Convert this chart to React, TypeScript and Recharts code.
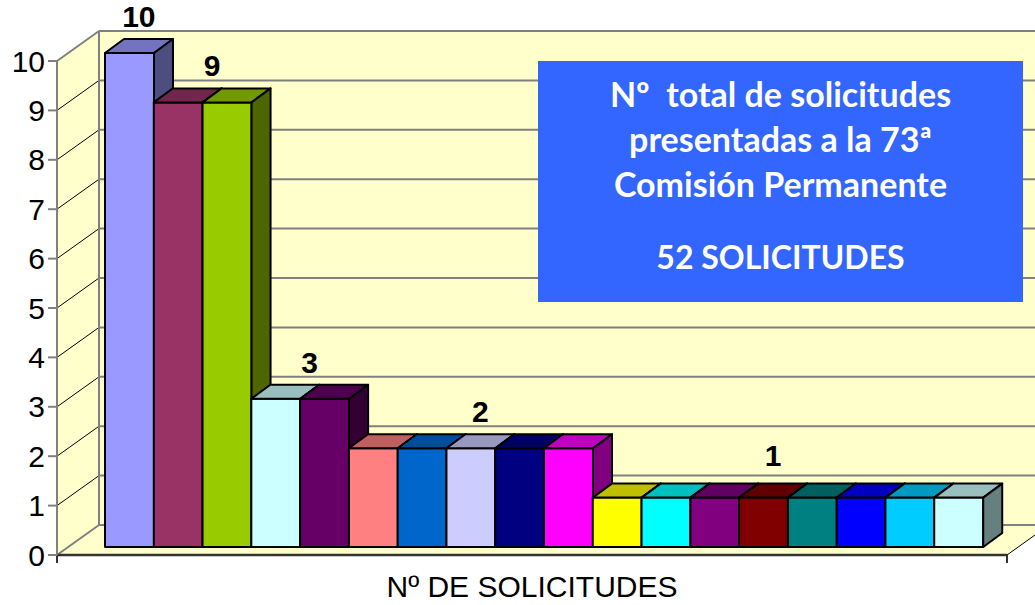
import React from 'react';
import * as R from 'recharts';

const { BarChart, Bar, XAxis, YAxis, Cell, Label } = R as any;

// ---------- data ----------
const categories = ['1', '2', '3', '4', '5', '6', '7', '8', '9', '10', '11', '12', '13', '14', '15', '16', '17', '18'];
const values = [10, 9, 9, 3, 3, 2, 2, 2, 2, 2, 1, 1, 1, 1, 1, 1, 1, 1];
const barColors = [
  '#9999FF', '#993366', '#99CC00', '#CCFFFF', '#660066', '#FF8080', '#0066CC', '#CCCCFF', '#000080',
  '#FF00FF', '#FFFF00', '#00FFFF', '#800080', '#800000', '#008080', '#0000FF', '#00CCFF', '#CCFFFF',
];
const yTicks = [0, 1, 2, 3, 4, 5, 6, 7, 8, 9, 10];
const groupLabels = [10, 9, 3, 2, 1];
const groupLabelAt = [0, 1.5, 3.5, 7, 13]; // category position each group label sits over
const axisTitle = 'Nº DE SOLICITUDES';
const boxLines = ['Nº  total de solicitudes', 'presentadas a la 73ª', 'Comisión Permanente', '52 SOLICITUDES'];

const data = categories.map((c, i) => ({ name: c, value: values[i] }));

// ---------- geometry / style ----------
const Y_MAX = 10;
const BOX_DX = 42, BOX_DY = -30; // depth of the 3D box
const FRONT_DX = 11, FRONT_DY = -8; // bar front plane offset
const BAR_DX = 19, BAR_DY = -14; // bar depth
const PAD_L = 37, PAD_R = 35;
const WALL = '#FFFFCC';
const GRID = '#808080';
const FONT = '"Liberation Sans", Arial, sans-serif';

function shade(hex: string, f: number) {
  const n = parseInt(hex.slice(1), 16);
  const r = Math.round(((n >> 16) & 255) * f);
  const g = Math.round(((n >> 8) & 255) * f);
  const b = Math.round((n & 255) * f);
  return `rgb(${r},${g},${b})`;
}

const usePlot: () => any = (R as any).usePlotArea
  ? () => (R as any).usePlotArea()
  : (R as any).useOffset
  ? () => {
      const o = (R as any).useOffset();
      const w = (R as any).useChartWidth();
      const h = (R as any).useChartHeight();
      return o && w && h ? { x: o.left, y: o.top, width: w - o.left - o.right, height: h - o.top - o.bottom } : null;
    }
  : () => null;

function Walls() {
  const pa = usePlot();
  if (!pa) return null;
  const { x, y, width: w, height: h } = pa;
  const yOf = (v: number) => y + h - (v / Y_MAX) * h;
  const x0 = x, x1 = x + w, yb = y + h;
  return (
    <g>
      <rect x={x0 + BOX_DX} y={y + BOX_DY} width={w} height={h} fill={WALL} />
      <polygon
        points={`${x0},${yb} ${x0 + BOX_DX},${yb + BOX_DY} ${x0 + BOX_DX},${y + BOX_DY} ${x0},${y}`}
        fill={WALL}
      />
      <polygon
        points={`${x0},${yb} ${x1},${yb} ${x1 + BOX_DX},${yb + BOX_DY} ${x0 + BOX_DX},${yb + BOX_DY}`}
        fill={WALL}
      />
      {yTicks.map((v) => (
        <g key={v}>
          <line x1={x0 + BOX_DX} x2={x1 + BOX_DX} y1={yOf(v) + BOX_DY} y2={yOf(v) + BOX_DY} stroke={GRID} strokeWidth={2} />
          <line
            x1={x0}
            y1={yOf(v)}
            x2={x0 + BOX_DX}
            y2={yOf(v) + BOX_DY}
            stroke={v === 0 || v === Y_MAX ? GRID : '#000'}
            strokeWidth={v === 0 || v === Y_MAX ? 2 : 1}
          />
        </g>
      ))}
      <line x1={x0 + BOX_DX} x2={x0 + BOX_DX} y1={y + BOX_DY} y2={yb + BOX_DY} stroke={GRID} strokeWidth={2} />
      <line x1={x1} y1={yb} x2={x1 + BOX_DX} y2={yb + BOX_DY} stroke="#000" strokeWidth={1} />
      <line x1={x0} x2={x0} y1={yb} y2={yb + 8} stroke="#333" strokeWidth={2} />
      <line x1={x1} x2={x1} y1={yb} y2={yb + 8} stroke="#333" strokeWidth={2} />
    </g>
  );
}

function GroupLabels() {
  const pa = usePlot();
  if (!pa) return null;
  const { x, y, width: w, height: h } = pa;
  const yOf = (v: number) => y + h - (v / Y_MAX) * h;
  const band = (w - PAD_L - PAD_R) / categories.length;
  return (
    <g>
      {groupLabels.map((v, i) => (
        <text
          key={i}
          x={x + PAD_L + band * (groupLabelAt[i] + 0.5) + FRONT_DX + BAR_DX / 2}
          y={yOf(v) - (v === 1 ? 40 : 34)}
          textAnchor="middle"
          fontSize={30}
          fontWeight="bold"
          fontFamily={FONT}
          fill="#000"
        >
          {v}
        </text>
      ))}
    </g>
  );
}

function Bar3D(props: any) {
  const { x, y, width, height, fill } = props;
  if (width == null || height == null) return null;
  const fx = x + FRONT_DX, fy = y + FRONT_DY;
  const s = { stroke: '#000', strokeWidth: 2, strokeLinejoin: 'round' as const };
  return (
    <g>
      <rect x={fx} y={fy} width={width} height={height} fill={fill} {...s} />
      <polygon
        points={`${fx},${fy} ${fx + BAR_DX},${fy + BAR_DY} ${fx + width + BAR_DX},${fy + BAR_DY} ${fx + width},${fy}`}
        fill={shade(fill, 0.75)}
        {...s}
      />
      <polygon
        points={`${fx + width},${fy} ${fx + width + BAR_DX},${fy + BAR_DY} ${fx + width + BAR_DX},${fy + height + BAR_DY} ${fx + width},${fy + height}`}
        fill={shade(fill, 0.5)}
        {...s}
      />
    </g>
  );
}

export default function App() {
  return (
    <div style={{ position: 'absolute', left: 0, top: 0, width: 1035, height: 605, background: '#fff' }}>
      <BarChart
        width={1035}
        height={605}
        data={data}
        margin={{ top: 61, right: 28, bottom: 0, left: 7 }}
        barCategoryGap={0}
        barGap={0}
      >
        <Walls />
        <XAxis
          dataKey="name"
          tick={false}
          tickLine={false}
          height={50}
          padding={{ left: PAD_L, right: PAD_R }}
          axisLine={{ stroke: '#333', strokeWidth: 2.5 }}
        >
          <Label value={axisTitle} position="insideBottom" offset={8} fontSize={30} fill="#000" fontFamily={FONT} />
        </XAxis>
        <YAxis
          width={50}
          domain={[0, Y_MAX]}
          ticks={yTicks}
          interval={0}
          tickSize={9}
          tickMargin={3}
          axisLine={{ stroke: GRID, strokeWidth: 2 }}
          tickLine={{ stroke: GRID, strokeWidth: 2 }}
          tick={{ fontSize: 30, fill: '#000', fontFamily: FONT }}
        />
        <Bar dataKey="value" isAnimationActive={false} shape={Bar3D}>
          {data.map((d, i) => (
            <Cell key={d.name} fill={barColors[i]} />
          ))}
        </Bar>
        <GroupLabels />
      </BarChart>
      <svg width={485} height={241} style={{ position: 'absolute', left: 538, top: 61 }}>
        <rect x={0} y={0} width={485} height={241} fill="#3366FF" />
        {boxLines.map((t, i) => (
          <text
            key={i}
            x={242.5}
            y={[46, 91, 136, 208][i]}
            textAnchor="middle"
            fill="#fff"
            fontSize={i === 3 ? 32 : 34}
            fontWeight="bold"
            fontFamily="Lato, 'Open Sans', sans-serif"
            style={{ whiteSpace: 'pre' }}
          >
            {t}
          </text>
        ))}
      </svg>
    </div>
  );
}
